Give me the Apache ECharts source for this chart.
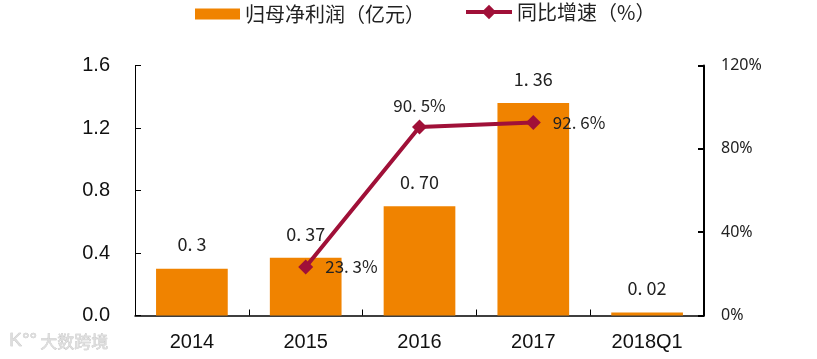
<!DOCTYPE html>
<html><head><meta charset="utf-8">
<style>html,body{margin:0;padding:0;background:#fff}#c{width:817px;height:359px}</style>
<script src="https://cdn.jsdelivr.net/npm/echarts@6/dist/echarts.min.js"></script>
</head><body><div id="c"></div>
<script>
const categories = ['2014','2015','2016','2017','2018Q1'];
const profit = [0.3,0.37,0.70,1.36,0.02];
const profitLabels = ['0. 3','0. 37','0. 70','1. 36','0. 02'];
const growth = [null,23.3,90.5,92.6,null];
const growthLabels = ['','23. 3%','90. 5%','92. 6%',''];
const growthLabelPositions = [null,'right','top','right',null];
const cjk = '"Noto Sans CJK SC","Liberation Sans",sans-serif';
const legendNames = ['归母净利润(亿元)','同比增速(%)'];
const fullWidth = n=>n.replace('(','（').replace(')','）');
const chart = echarts.init(document.getElementById('c'),null,{renderer:'canvas'});
chart.setOption({
  animation:false,
  backgroundColor:'#fff',
  legend:[
   {top:-1,left:190,itemWidth:45,itemHeight:11,
    textStyle:{fontFamily:cjk,fontSize:20,color:'#222'},
    data:[{name:legendNames[0],icon:'rect'}],formatter:fullWidth},
   {top:-3,left:459,itemWidth:46,itemHeight:18,
    textStyle:{fontFamily:cjk,fontSize:20,color:'#222'},
    lineStyle:{width:4},
    data:[{name:legendNames[1]}],formatter:fullWidth}
  ],
  grid:{left:135,right:113,top:65.5,bottom:43.5,containLabel:false},
  xAxis:{type:'category',data:categories,
    axisLine:{lineStyle:{color:'#000',width:1.5}},
    axisTick:{show:true,inside:true,length:6,alignWithLabel:false,lineStyle:{color:'#000',width:1}},
    axisLabel:{fontFamily:'"Liberation Sans",Arial,sans-serif',fontSize:20,color:'#111',margin:17}},
  yAxis:[
    {type:'value',min:0,max:1.6,interval:0.4,
     axisLine:{show:true,lineStyle:{color:'#000',width:1}},
     axisTick:{show:true,inside:true,length:6,lineStyle:{color:'#000',width:1}},
     splitLine:{show:false},
     axisLabel:{fontFamily:'"Liberation Sans",Arial,sans-serif',fontSize:20,color:'#111',margin:25,
       formatter:v=>v.toFixed(1)}},
    {type:'value',min:0,max:120,interval:40,position:'right',
     axisLine:{show:true,lineStyle:{color:'#000',width:2}},
     axisTick:{show:true,inside:true,length:6,lineStyle:{color:'#000',width:2}},
     splitLine:{show:false},
     axisLabel:{fontFamily:'"Noto Sans",sans-serif',fontSize:16,color:'#222',margin:17,padding:[3,0,0,0],
       formatter:v=>v+'%'}}
  ],
  series:[
    {name:legendNames[0],type:'bar',barWidth:'63%',
     itemStyle:{color:'#F08300'},
     data:profit.map((v,i)=>({value:v,label:{formatter:profitLabels[i]}})),
     label:{show:true,position:'top',distance:15,fontFamily:cjk,fontSize:18,color:'#222'}},
    {name:legendNames[1],type:'line',yAxisIndex:1,symbol:'diamond',symbolSize:15,
     connectNulls:false,
     lineStyle:{color:'#A01038',width:4},
     itemStyle:{color:'#A01038'},
     data:growth.map((v,i)=>({value:v,label:{show:v!==null,formatter:growthLabels[i],position:growthLabelPositions[i]||'top',distance:growthLabelPositions[i]==='top'?5:12}})),
     label:{fontFamily:cjk,fontSize:17,color:'#222'}}
  ],
  graphic:[{type:'text',left:40,top:333,
    style:{text:'大数跨境',fontFamily:cjk,fontSize:17,fill:'#ddd',stroke:'#bbb',lineWidth:0.5}},
    {type:'text',left:9,top:331,
    style:{text:'K°°',fontFamily:'"Liberation Sans",sans-serif',fontSize:19,fill:'#ddd',stroke:'#bbb',lineWidth:0.5}}]
});
</script></body></html>
